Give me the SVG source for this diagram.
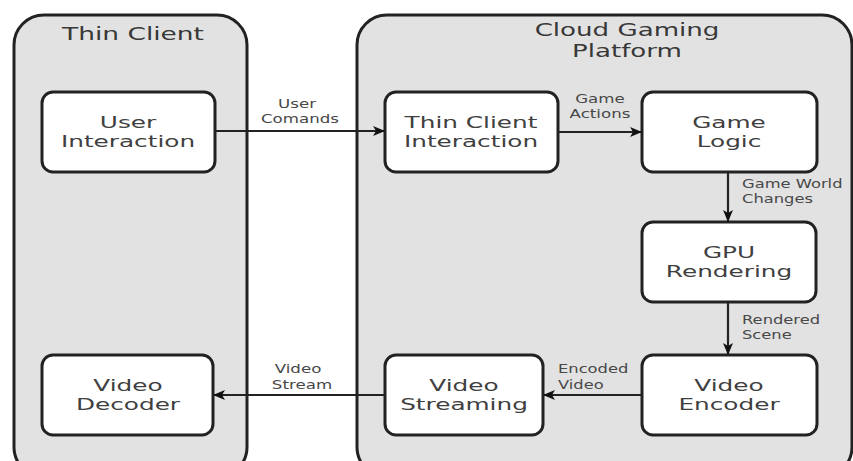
<svg xmlns="http://www.w3.org/2000/svg" width="853" height="461" viewBox="0 0 853 461">
<style>
.cont{fill:#e2e2e2;stroke:#222;stroke-width:3}
.node{fill:#fff;stroke:#222;stroke-width:3}
.title{font-family:"DejaVu Sans",sans-serif;font-size:18px;fill:#383838;text-anchor:middle}
.nt{font-family:"DejaVu Sans",sans-serif;font-size:16.5px;fill:#404040;text-anchor:middle}
.lbl{font-family:"DejaVu Sans",sans-serif;font-size:11.5px;fill:#484848}
.c{text-anchor:middle}
.edge{stroke:#222;stroke-width:2.2;fill:none;marker-end:url(#ah)}
</style>
<defs>
<marker id="ah" viewBox="0 0 12 10" refX="12" refY="5" markerWidth="12" markerHeight="10" markerUnits="userSpaceOnUse" orient="auto">
<path d="M0,0 L12,5 L0,10 L3,5 z" fill="#111"/>
</marker>
</defs>
<rect width="853" height="461" fill="#fff"/>
<g id="thin-client">
<rect class="cont" x="14" y="15" width="233" height="462" rx="30"/>
<text class="title" transform="translate(133,40) scale(1.47,1)">Thin Client</text>
</g>
<g id="cloud-platform">
<rect class="cont" x="357" y="15" width="495" height="462" rx="30"/>
<text class="title" transform="translate(627,36) scale(1.45,1)">Cloud Gaming</text>
<text class="title" transform="translate(627,57) scale(1.45,1)">Platform</text>
</g>
<g id="user-interaction">
<rect class="node" x="42" y="92" width="173" height="80" rx="11"/>
<text class="nt" transform="translate(128,128) scale(1.5,1)">User</text>
<text class="nt" transform="translate(128,147) scale(1.5,1)">Interaction</text>
</g>
<g id="video-decoder">
<rect class="node" x="42" y="355" width="171" height="80" rx="11"/>
<text class="nt" transform="translate(128,391) scale(1.5,1)">Video</text>
<text class="nt" transform="translate(128,410) scale(1.5,1)">Decoder</text>
</g>
<g id="thin-client-interaction">
<rect class="node" x="385" y="92" width="173" height="80" rx="11"/>
<text class="nt" transform="translate(471,128) scale(1.5,1)">Thin Client</text>
<text class="nt" transform="translate(471,147) scale(1.5,1)">Interaction</text>
</g>
<g id="game-logic">
<rect class="node" x="642" y="92" width="175" height="80" rx="11"/>
<text class="nt" transform="translate(729,128) scale(1.5,1)">Game</text>
<text class="nt" transform="translate(729,147) scale(1.5,1)">Logic</text>
</g>
<g id="gpu-rendering">
<rect class="node" x="642" y="222" width="174" height="80" rx="11"/>
<text class="nt" transform="translate(729,258) scale(1.5,1)">GPU</text>
<text class="nt" transform="translate(729,277) scale(1.5,1)">Rendering</text>
</g>
<g id="video-encoder">
<rect class="node" x="642" y="355" width="175" height="80" rx="11"/>
<text class="nt" transform="translate(729,391) scale(1.5,1)">Video</text>
<text class="nt" transform="translate(729,410) scale(1.5,1)">Encoder</text>
</g>
<g id="video-streaming">
<rect class="node" x="385" y="355" width="158" height="80" rx="11"/>
<text class="nt" transform="translate(464,391) scale(1.5,1)">Video</text>
<text class="nt" transform="translate(464,410) scale(1.5,1)">Streaming</text>
</g>
<g id="connectors">
<line class="edge" x1="215" y1="131" x2="385" y2="131"/>
<line class="edge" x1="558" y1="132" x2="642" y2="132"/>
<line class="edge" x1="728" y1="172" x2="728" y2="222"/>
<line class="edge" x1="728" y1="302" x2="728" y2="355"/>
<line class="edge" x1="642" y1="395" x2="543" y2="395"/>
<line class="edge" x1="385" y1="395" x2="213" y2="395"/>
<text class="lbl c" transform="translate(297,108) scale(1.45,1)">User</text>
<text class="lbl c" transform="translate(300,123) scale(1.45,1)">Comands</text>
<text class="lbl c" transform="translate(600,103) scale(1.45,1)">Game</text>
<text class="lbl c" transform="translate(600,118) scale(1.45,1)">Actions</text>
<text class="lbl" transform="translate(742,188) scale(1.42,1)">Game World</text>
<text class="lbl" transform="translate(742,203) scale(1.42,1)">Changes</text>
<text class="lbl" transform="translate(742,324) scale(1.42,1)">Rendered</text>
<text class="lbl" transform="translate(742,339) scale(1.42,1)">Scene</text>
<text class="lbl" transform="translate(558,373) scale(1.42,1)">Encoded</text>
<text class="lbl" transform="translate(558,389) scale(1.42,1)">Video</text>
<text class="lbl c" transform="translate(298,373) scale(1.45,1)">Video</text>
<text class="lbl c" transform="translate(302,389) scale(1.45,1)">Stream</text>
</g>
</svg>
